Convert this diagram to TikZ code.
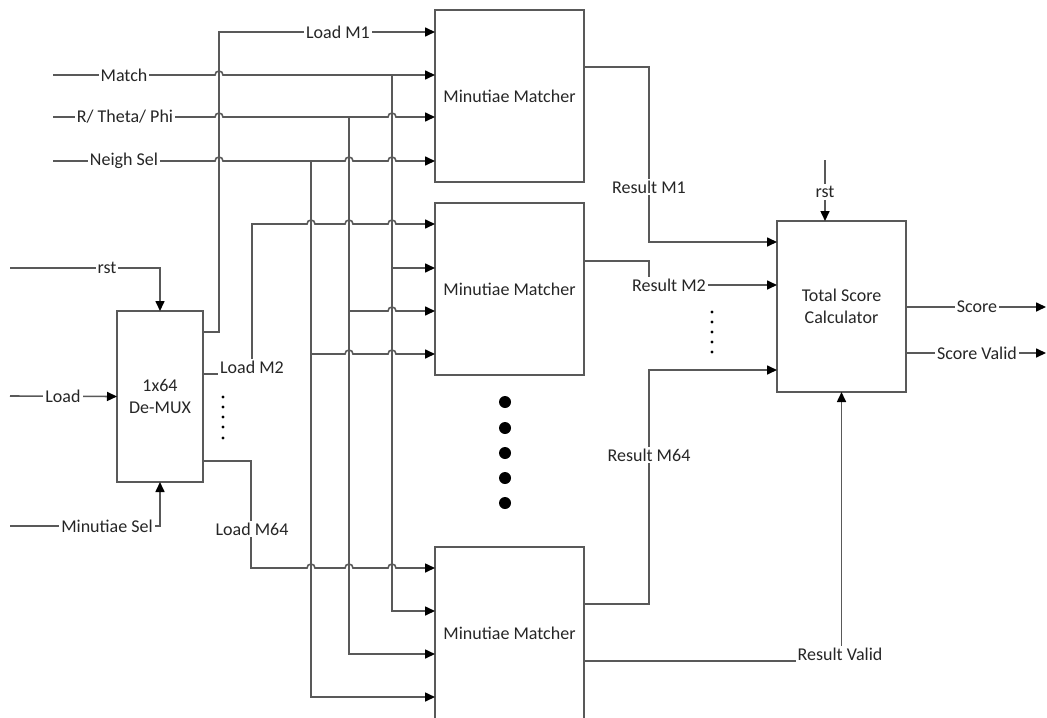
\documentclass[tikz,border=0pt]{standalone}
\usepackage{fontspec}
\setmainfont{Carlito}
\usetikzlibrary{arrows.meta,positioning}
\definecolor{wiregray}{HTML}{595959}
\definecolor{txtgray}{HTML}{262626}
% line jumps over vertical wires
\newcommand{\hops}[2]{\foreach \hx in {#2}{ -- (\hx-4,#1) arc[start angle=180,end angle=360,radius=4]}}

\begin{document}
\begin{tikzpicture}[
  x=0.5pt, y=-0.5pt,
  font=\fontsize{9}{10.8}\selectfont, text=txtgray,
  block/.style={draw=wiregray, line width=0.8pt, inner sep=0pt, outer sep=0pt,
    align=center, minimum width=74.5pt, minimum height=86pt},
  lbl/.style={fill=white, inner sep=1pt},
  wire/.style={draw=wiregray, line width=0.8pt},
  arr/.style={wire, -{Triangle[length=5pt,width=4.5pt,color=black]}}
]
\useasboundingbox (0,0) rectangle (1047,717);
\clip (0,0) rectangle (1047,717);

% blocks
\node[block] (mm1) at (509.5,96) {Minutiae Matcher};
\node[block] (mm2) at (509.5,289) {Minutiae Matcher};
\node[block] (mm3) at (509.5,633) {Minutiae Matcher};
\node[block, minimum width=43pt, minimum height=85.5pt] (dmx) at (160,396.5) {1x64\\De-MUX};
\node[block, minimum width=64.5pt, minimum height=85.5pt] (tsc) at (841.5,306.5) {Total Score\\Calculator};

% ports
\foreach \y [count=\i] in {32,75,117,161} \coordinate (mm1-p\i) at (435,\y);
\foreach \y [count=\i] in {224,268,311,354} \coordinate (mm2-p\i) at (435,\y);
\foreach \y [count=\i] in {568,611,654,697} \coordinate (mm3-p\i) at (435,\y);
\coordinate (mm1-o) at (584,67);
\coordinate (mm2-o) at (584,261);
\coordinate (mm3-o1) at (584,604);
\coordinate (mm3-o2) at (584,661);
\coordinate (dmx-o1) at (203,332);
\coordinate (dmx-o2) at (203,374);
\coordinate (dmx-o3) at (203,461);
\coordinate (tsc-i1) at (777,242);
\coordinate (tsc-i2) at (777,285);
\coordinate (tsc-i3) at (777,370);
\coordinate (tsc-rst) at (825,221);
\coordinate (tsc-o1) at (906,307);
\coordinate (tsc-o2) at (906,353);

% free ends and junctions
\coordinate (rstin) at (10,268);
\coordinate (loadin) at (10,396);
\coordinate (selin) at (10,526);
\coordinate (matchin) at (53,75);
\coordinate (rin) at (53,117);
\coordinate (nin) at (53,161);
\coordinate (rst2in) at (825,160);
\coordinate (scoreout) at (1046,307);
\coordinate (validout) at (1046,353);
\coordinate (jm) at (392,75);
\coordinate (jr) at (349,117);
\coordinate (jn) at (311,161);

% demux inputs
\draw[arr] (rstin) -| (dmx.north);
\draw[arr] (loadin) -- (dmx.west);
\draw[arr] (selin) -| (dmx.south);

% load lines
\draw[arr] (dmx-o1) -- ++(16,0) |- (mm1-p1);
\draw[arr] (dmx-o2) -- ++(49,0) -- (252,224) \hops{224}{311,349,392} -- (mm2-p1);
\draw[arr] (dmx-o3) -- ++(48,0) -- (251,568) \hops{568}{311,349,392} -- (mm3-p1);

% shared inputs
\draw[arr] (matchin) \hops{75}{219} -- (mm1-p2);
\draw[arr] (rin) \hops{117}{219,392} -- (mm1-p3);
\draw[arr] (nin) \hops{161}{219,349,392} -- (mm1-p4);
\draw[arr] (jm) |- (mm2-p2);
\draw[arr] (jm) |- (mm3-p2);
\draw[arr] (jr) -- (349,311) \hops{311}{392} -- (mm2-p3);
\draw[arr] (jr) |- (mm3-p3);
\draw[arr] (jn) -- (311,354) \hops{354}{349,392} -- (mm2-p4);
\draw[arr] (jn) |- (mm3-p4);

% results
\draw[arr] (mm1-o) -- ++(65,0) |- (tsc-i1);
\draw[arr] (mm2-o) -- ++(65,0) |- (tsc-i2);
\draw[arr] (mm3-o1) -- ++(65,0) |- (tsc-i3);
\draw[arr] (mm3-o2) -| (tsc.south);
\draw[arr] (rst2in) -- (tsc-rst);
\draw[arr] (tsc-o1) -- (scoreout);
\draw[arr] (tsc-o2) -- (validout);

% labels
\node[lbl] (lrst) at (107,268) {rst};
\node[lbl] (lload) at (63,396) {Load};
\node[lbl] (lsel) at (107,526) {Minutiae Sel};
\node[lbl] (lmatch) at (124,75) {Match};
\node[lbl] (lrtp) at (125,117) {R/ Theta/ Phi};
\node[lbl] (lneigh) at (124,161) {Neigh Sel};
\node[lbl] (llm1) at (338,32) {Load M1};
\node[lbl] (llm2) at (252,367) {Load M2};
\node[lbl] (llm64) at (252,529) {Load M64};
\node[lbl] (lrm1) at (649,187) {Result M1};
\node[lbl] (lrm2) at (669,285) {Result M2};
\node[lbl] (lrm64) at (649,455) {Result M64};
\node[lbl] (lvalid) at (840,654) {Result Valid};
\node[lbl] (lrst2) at (825,192) {rst};
\node[lbl] (lscore) at (977,307) {Score};
\node[lbl] (lsvalid) at (977,353) {Score Valid};

% dots
\foreach \y in {397,407,417,427,438} \fill (223,\y) circle[radius=0.8pt];
\foreach \y in {312,322,332,342,352} \fill (712,\y) circle[radius=0.8pt];
\foreach \y in {402,428,453,478,503} \fill (505,\y) circle[radius=3pt];
\end{tikzpicture}
\end{document}
